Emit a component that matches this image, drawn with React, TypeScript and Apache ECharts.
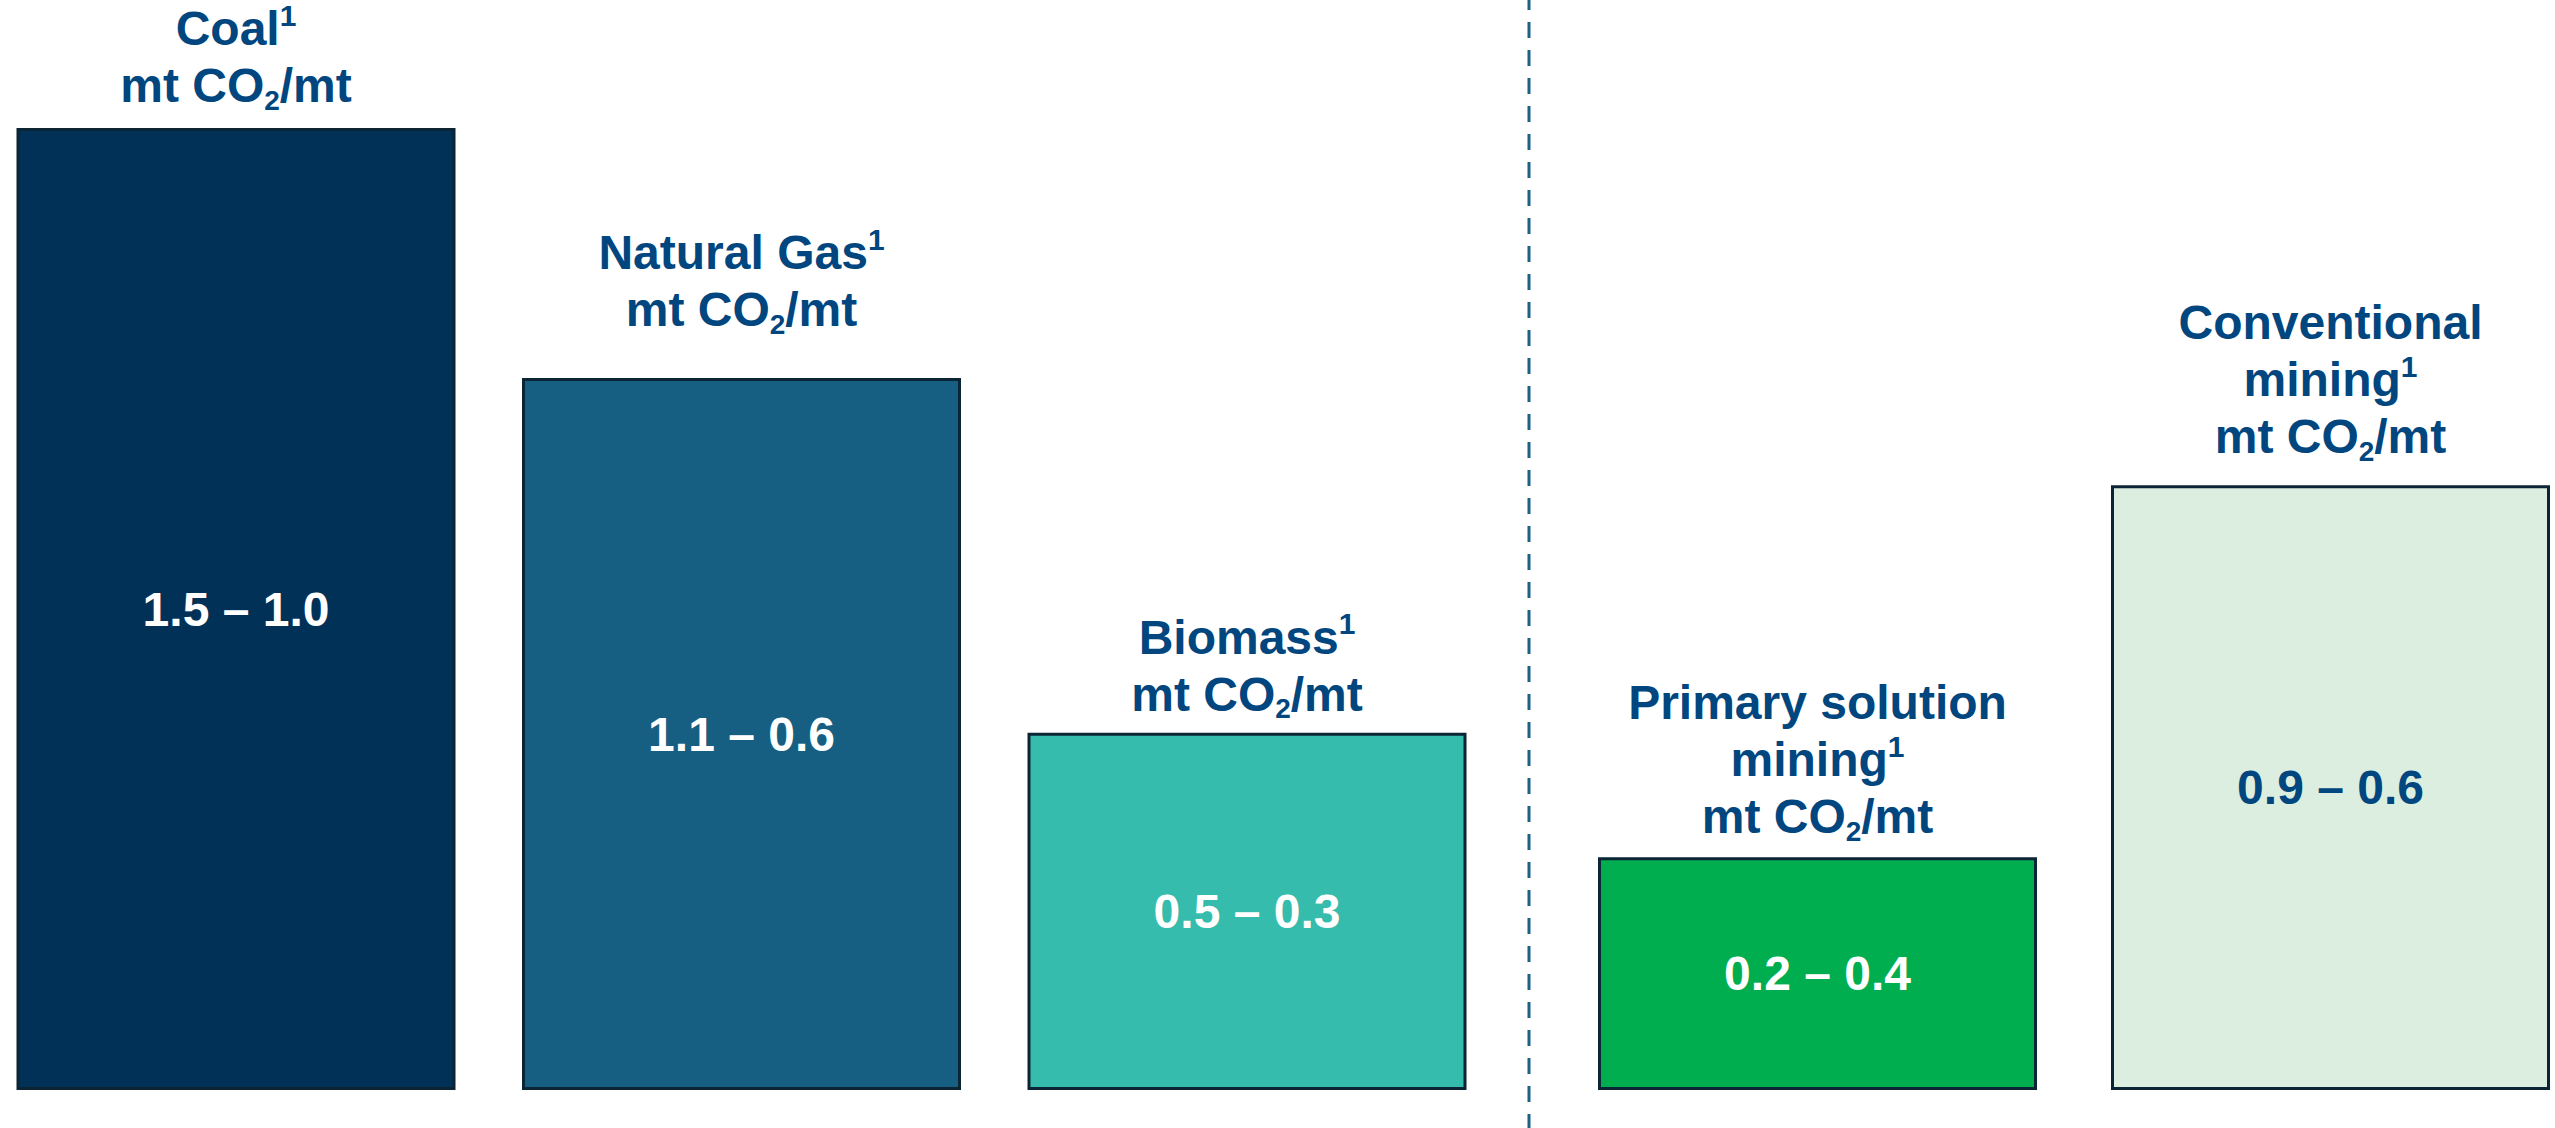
import React, { useEffect, useRef } from "react";
import * as echarts from "echarts";

// ---- data ----
const categories = ["Coal", "Natural Gas", "Biomass", "Primary solution mining", "Conventional mining"];
const barHeights = [1.5, 1.11, 0.557, 0.363, 0.943];
const rangeLabels = ["1.5 – 1.0", "1.1 – 0.6", "0.5 – 0.3", "0.2 – 0.4", "0.9 – 0.6"];
const titleLines = [["Coal"], ["Natural Gas"], ["Biomass"], ["Primary solution", "mining"], ["Conventional", "mining"]];
const unitText = ["mt CO", "2", "/mt"];
const footnoteMark = "1";
const leftGroup = [0, 1, 2];
const rightGroup = [3, 4];

// ---- styles ----
const barColors = ["#023157", "#175F82", "#36BCAD", "#00AE4F", "#DCEEDF"];
const valueColors = ["#FFFFFF", "#FFFFFF", "#FFFFFF", "#FFFFFF", "#01467E"];
const titleDistances = [14, 40, 10, 12, 20];
const TITLE_COLOR = "#01467E";
const BORDER = "#0B2535";
const FONT = "'Liberation Sans', Arial, Helvetica, sans-serif";

function titleString(i: number) {
  const lines = titleLines[i].slice();
  lines[lines.length - 1] = lines[lines.length - 1] + "{sup|" + footnoteMark + "}";
  lines.push(unitText[0] + "{sub|" + unitText[1] + "}" + unitText[2]);
  return lines.join("\n");
}

function buildSeries(idx: number[], axis: number) {
  const bars = {
    type: "bar",
    xAxisIndex: axis,
    yAxisIndex: axis,
    barWidth: 439,
    clip: false,
    z: 2,
    data: idx.map((i) => ({
      value: barHeights[i],
      itemStyle: { color: barColors[i], borderColor: BORDER, borderWidth: 3 },
      label: {
        show: true,
        position: "inside",
        formatter: rangeLabels[i],
        color: valueColors[i],
        fontSize: 48,
        fontWeight: "bold",
        fontFamily: FONT,
      },
    })),
  };
  const titles = {
    type: "bar",
    xAxisIndex: axis,
    yAxisIndex: axis,
    barWidth: 439,
    barGap: "-100%",
    clip: false,
    z: 3,
    silent: true,
    itemStyle: { color: "rgba(0,0,0,0)" },
    data: idx.map((i) => ({
      value: barHeights[i],
      label: {
        show: true,
        position: "top",
        distance: titleDistances[i],
        formatter: titleString(i),
        color: TITLE_COLOR,
        fontSize: 48,
        fontWeight: "bold",
        fontFamily: FONT,
        lineHeight: 57,
        align: "center",
        rich: {
          sup: {
            fontSize: 30,
            fontWeight: "bold",
            fontFamily: FONT,
            color: TITLE_COLOR,
            verticalAlign: "top",
            lineHeight: 48,
          },
          sub: {
            fontSize: 28,
            fontWeight: "bold",
            fontFamily: FONT,
            color: TITLE_COLOR,
            verticalAlign: "bottom",
            lineHeight: 27,
          },
        },
      },
    })),
  };
  return [bars, titles];
}

export default function App() {
  const ref = useRef<HTMLDivElement>(null);
  useEffect(() => {
    document.body.style.margin = "0";
    if (!ref.current) return;
    const chart = echarts.init(ref.current, null, { renderer: "svg" });
    const yAx = { type: "value", min: 0, max: 1.5, show: false };
    chart.setOption({
      animation: false,
      backgroundColor: "#FFFFFF",
      grid: [
        { left: 236, width: 1011, top: 128, bottom: 38 },
        { left: 1817.5, width: 513, top: 128, bottom: 38 },
      ],
      xAxis: [
        { type: "category", gridIndex: 0, boundaryGap: false, data: leftGroup.map((i) => categories[i]), show: false },
        { type: "category", gridIndex: 1, boundaryGap: false, data: rightGroup.map((i) => categories[i]), show: false },
      ],
      yAxis: [
        { ...yAx, gridIndex: 0 },
        { ...yAx, gridIndex: 1 },
      ],
      series: [...buildSeries(leftGroup, 0), ...buildSeries(rightGroup, 1)],
      graphic: [
        {
          type: "line",
          shape: { x1: 1529, y1: 0, x2: 1529, y2: 1128 },
          style: { stroke: "#1B6283", lineWidth: 3, lineDash: [16, 12], lineDashOffset: 6 },
        },
      ],
    });
    return () => chart.dispose();
  }, []);
  return <div ref={ref} style={{ width: 2555, height: 1128 }} />;
}
